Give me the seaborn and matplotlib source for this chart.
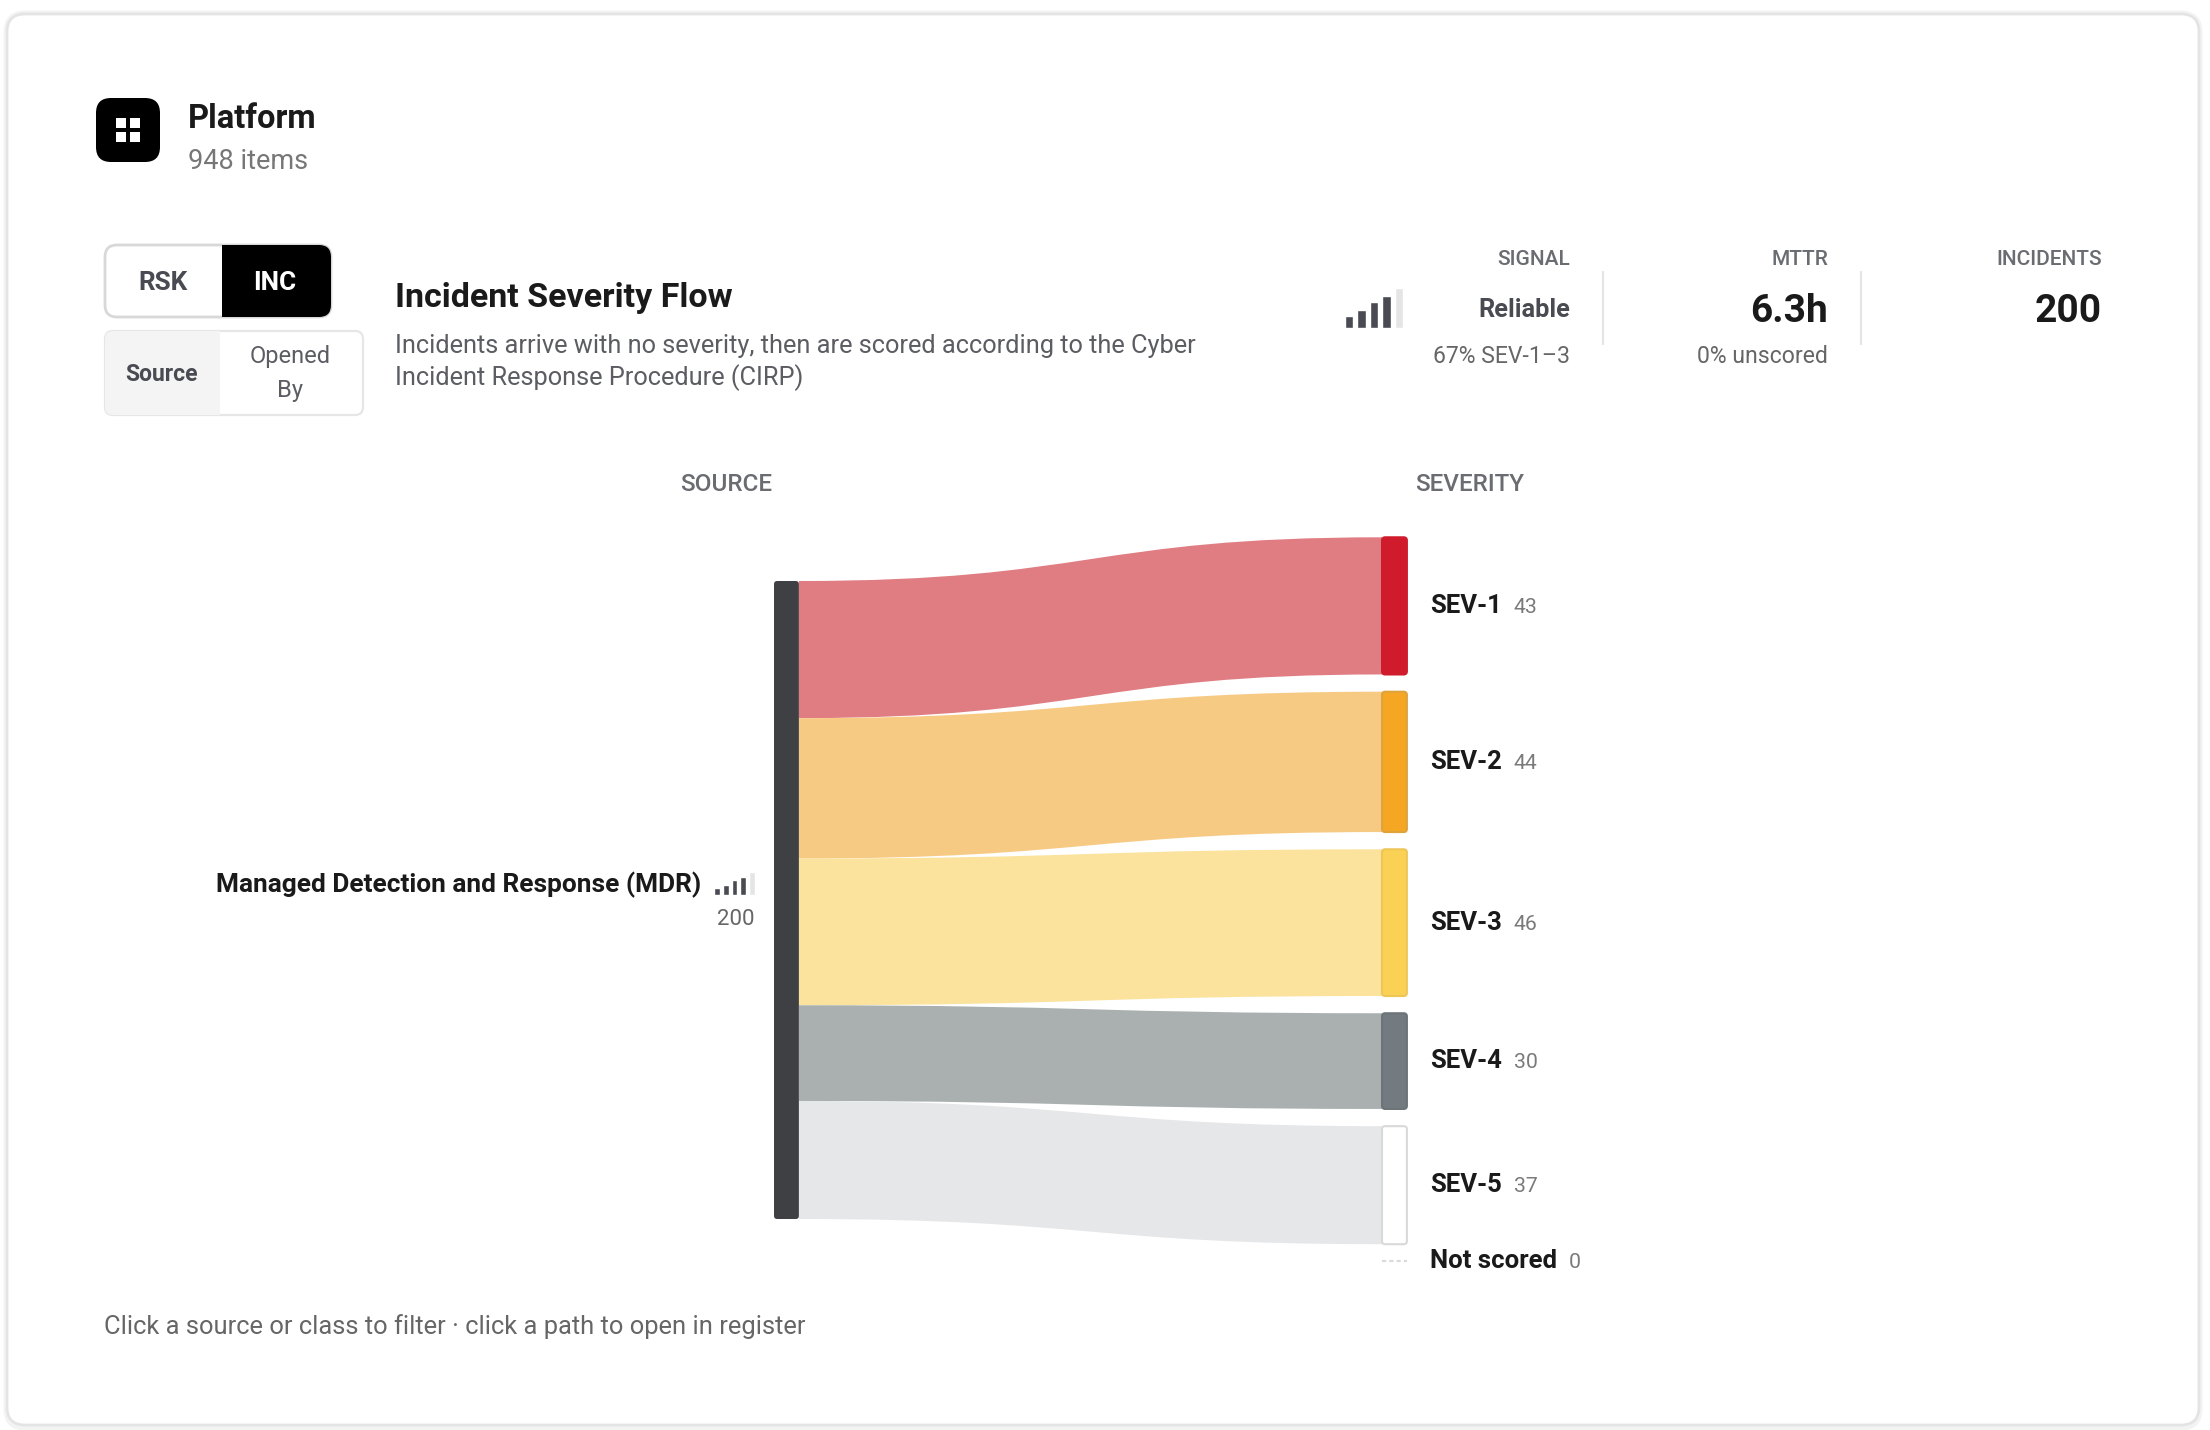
#!/usr/bin/env python3
import numpy as np
import pandas as pd
import seaborn as sns
import matplotlib.pyplot as plt
from matplotlib.patches import FancyBboxPatch, PathPatch, Rectangle
from matplotlib.path import Path

WIDTH, HEIGHT = 2210, 1430

# chart values
severities = ["SEV-1", "SEV-2", "SEV-3", "SEV-4", "SEV-5", "Not scored"]
counts = [43, 44, 46, 30, 37, 0]
source_name = "Managed Detection and Response (MDR)"
source_total = 200
signal_levels = [1, 2, 3, 4, 5]
signal_heights = [12, 18, 26, 32, 40]
signal_active = [True, True, True, True, False]

node_colors = ["#cf1b2b", "#f5a623", "#fbd155", "#737b80", "#ffffff", "#ffffff"]
node_edges = ["#cf1b2b", "#dea33c", "#eec658", "#6c7478", "#d9d9d9", "#d9d9d9"]
link_colors = ["#e07d83", "#f7ca84", "#fbe39d", "#aab0b0", "#e6e7e9", "#e6e7e9"]

# sankey layout, in incident units
PX_PER_UNIT = 3.19
NODE_W = 7.8
RIGHT_X = 190.6
NODE_GAP = 5.4
RIGHT_TOP = -13.7


def add_axes_px(fig, left, top, right, bottom):
    return fig.add_axes([left / WIDTH, 1 - bottom / HEIGHT, (right - left) / WIDTH, (bottom - top) / HEIGHT])


def rounded(ax, x0, y0, x1, y1, radius, **kwargs):
    patch = FancyBboxPatch((x0 + radius, y0 + radius), x1 - x0 - 2 * radius, y1 - y0 - 2 * radius,
                           boxstyle=f"round,pad={radius},rounding_size={radius}", **kwargs)
    ax.add_patch(patch)
    return patch


def draw_signal(fig, left, top, right, bottom):
    """Signal strength glyph, drawn as a small barplot."""
    ax = add_axes_px(fig, left, top, right, bottom)
    df = pd.DataFrame({"level": signal_levels, "height": signal_heights})
    colors = ["#4a4b52" if a else "#e5e5e5" for a in signal_active]
    sns.barplot(data=df, x="level", y="height", hue="level", palette=colors,
                legend=False, width=0.67, saturation=1, ax=ax)
    ax.set_xlim(-0.5, 4.5)
    ax.set_ylim(0, 40)
    ax.axis("off")
    ax.patch.set_alpha(0)


def draw_chrome(ax):
    # card with a faint shadow
    rounded(ax, 7, 14, 2199, 1427, 18, fc="none", ec="#f3f3f3", lw=5)
    rounded(ax, 7, 14, 2199, 1425, 18, fc="white", ec="#e4e4e4", lw=2)

    # header
    rounded(ax, 96, 98, 160, 162, 15, fc="black", ec="none")
    for x in (116, 130):
        for y in (118, 132):
            ax.add_patch(Rectangle((x, y), 10, 10, fc="white", ec="none"))
    ax.text(188, 128, "Platform", fontsize=23.5, fontweight="bold", color="#1a1a1a")
    ax.text(188, 169, "948 items", fontsize=19.5, color="#777777")

    # toggles
    rounded(ax, 105, 245, 331, 317, 12, fc="white", ec="#d8d8d8", lw=2, zorder=2)
    clip = rounded(ax, 105, 245, 331, 317, 12, fc="none", ec="none", zorder=2)
    inc = Rectangle((222, 245), 110, 72, fc="black", ec="none", zorder=3)
    ax.add_patch(inc)
    inc.set_clip_path(clip)
    ax.text(163, 290, "RSK", fontsize=18.8, fontweight="bold", color="#4a4b52", ha="center", zorder=4)
    ax.text(275, 290, "INC", fontsize=18.8, fontweight="bold", color="white", ha="center", zorder=4)

    rounded(ax, 105, 331, 363, 415, 8, fc="white", ec="#e6e6e6", lw=1.6, zorder=2)
    clip2 = rounded(ax, 105, 331, 363, 415, 8, fc="none", ec="none", zorder=2)
    src = Rectangle((105, 331), 115, 84, fc="#f4f4f5", ec="none", zorder=3)
    ax.add_patch(src)
    src.set_clip_path(clip2)
    ax.text(162, 381, "Source", fontsize=16.5, fontweight="bold", color="#4a4b52", ha="center", zorder=4)
    ax.text(290, 363, "Opened", fontsize=17, color="#5c5d63", ha="center", zorder=4)
    ax.text(290, 397, "By", fontsize=17, color="#5c5d63", ha="center", zorder=4)

    # title block
    ax.text(395, 307, "Incident Severity Flow", fontsize=24.5, fontweight="bold", color="#1a1a1a")
    ax.text(395, 353, "Incidents arrive with no severity, then are scored according to the Cyber",
            fontsize=18.3, color="#5c5d63")
    ax.text(395, 385, "Incident Response Procedure (CIRP)", fontsize=18.3, color="#5c5d63")

    # stats
    for x in (1603, 1861):
        ax.plot([x, x], [272, 344], color="#e4e4e4", lw=1.6)
    for x, head, big, sub in [(1570, "SIGNAL", None, "67% SEV-1–3"),
                              (1828, "MTTR", "6.3h", "0% unscored"),
                              (2102, "INCIDENTS", str(source_total), None)]:
        ax.text(x, 265, head, fontsize=15, fontweight="medium", color="#6b6c72", ha="right")
        if big:
            ax.text(x, 321.5, big, fontsize=28, fontweight="bold", color="#1a1a1a", ha="right")
        if sub:
            ax.text(x, 363, sub, fontsize=16.6, color="#666666", ha="right")
    ax.text(1570, 317, "Reliable", fontsize=18.3, fontweight="bold", color="#4a4b52", ha="right")

    # column heads and source label
    ax.text(772, 491, "SOURCE", fontsize=17.5, fontweight="medium", color="#6b6c72", ha="right")
    ax.text(1415, 491, "SEVERITY", fontsize=17.5, fontweight="medium", color="#6b6c72")
    ax.text(701, 892, source_name, fontsize=18.9, fontweight="bold", color="#1a1a1a", ha="right")
    ax.text(754, 925, str(source_total), fontsize=16, color="#666666", ha="right")

    ax.text(104, 1334, "Click a source or class to filter · click a path to open in register",
            fontsize=18.4, color="#666666")


def draw_sankey(ax):
    values = np.array(counts, dtype=float)
    left_tops = np.concatenate([[0], np.cumsum(values)[:-1]])
    right_tops = RIGHT_TOP + left_tops + NODE_GAP * np.arange(len(values))
    x0, x1 = NODE_W, RIGHT_X
    xm = (x0 + x1) / 2

    for i, v in enumerate(values):
        if v == 0:
            continue
        lt, rt = left_tops[i], right_tops[i]
        verts = [(x0, lt), (xm, lt), (xm, rt), (x1, rt),
                 (x1, rt + v), (xm, rt + v), (xm, lt + v), (x0, lt + v), (x0, lt)]
        codes = [Path.MOVETO, Path.CURVE4, Path.CURVE4, Path.CURVE4,
                 Path.LINETO, Path.CURVE4, Path.CURVE4, Path.CURVE4, Path.CLOSEPOLY]
        ax.add_patch(PathPatch(Path(verts, codes), fc=link_colors[i], ec="none", zorder=1))

    # source node
    rounded(ax, 0, 0, NODE_W, values.sum(), 1, fc="#3f4044", ec="none", zorder=3)

    # severity nodes and labels
    for i, v in enumerate(values):
        top = right_tops[i]
        if v > 0:
            rounded(ax, x1, top, x1 + NODE_W, top + v, 1, fc=node_colors[i], ec=node_edges[i], lw=1.5, zorder=3)
        else:
            ax.plot([x1, x1 + NODE_W], [top, top], color=node_edges[i], lw=1.5, ls=(0, (2, 1.5)), zorder=3)
        center = top + v / 2
        name = ax.annotate(severities[i], xy=(x1 + NODE_W, center), xytext=(23, -7), textcoords="offset pixels",
                           fontsize=18.5, fontweight="bold", color="#1a1a1a", va="baseline", annotation_clip=False)
        fig = ax.figure
        ext = name.get_window_extent(fig.canvas.get_renderer())
        gap = ext.x1 - ax.transData.transform((x1 + NODE_W, center))[0] + 12
        ax.annotate(str(int(v)), xy=(x1 + NODE_W, center), xytext=(gap, -7), textcoords="offset pixels",
                    fontsize=15.3, color="#7a7a7a", va="baseline", annotation_clip=False)


def main():
    sns.set_theme(style="white")
    plt.rcParams["font.family"] = ["Roboto", "DejaVu Sans"]

    fig = plt.figure(figsize=(WIDTH / 100, HEIGHT / 100), dpi=100)

    bg = fig.add_axes([0, 0, 1, 1])
    bg.set_xlim(0, WIDTH)
    bg.set_ylim(HEIGHT, 0)
    bg.axis("off")
    draw_chrome(bg)

    # sankey axes: one incident = PX_PER_UNIT pixels in both directions
    left, top, right, bottom = 760, 520, 1700, 1290
    ax = add_axes_px(fig, left, top, right, bottom)
    ax.set_xlim((left - 774) / PX_PER_UNIT, (right - 774) / PX_PER_UNIT)
    ax.set_ylim((bottom - 581) / PX_PER_UNIT, (top - 581) / PX_PER_UNIT)
    ax.patch.set_alpha(0)
    ax.set_xticks([])
    ax.set_yticks([])
    sns.despine(ax=ax, left=True, bottom=True)
    draw_sankey(ax)

    draw_signal(fig, 1343, 288, 1405, 328)
    draw_signal(fig, 712.5, 872, 756.5, 895)

    fig.savefig("out.png", dpi=100)
    plt.close("all")


if __name__ == "__main__":
    main()
